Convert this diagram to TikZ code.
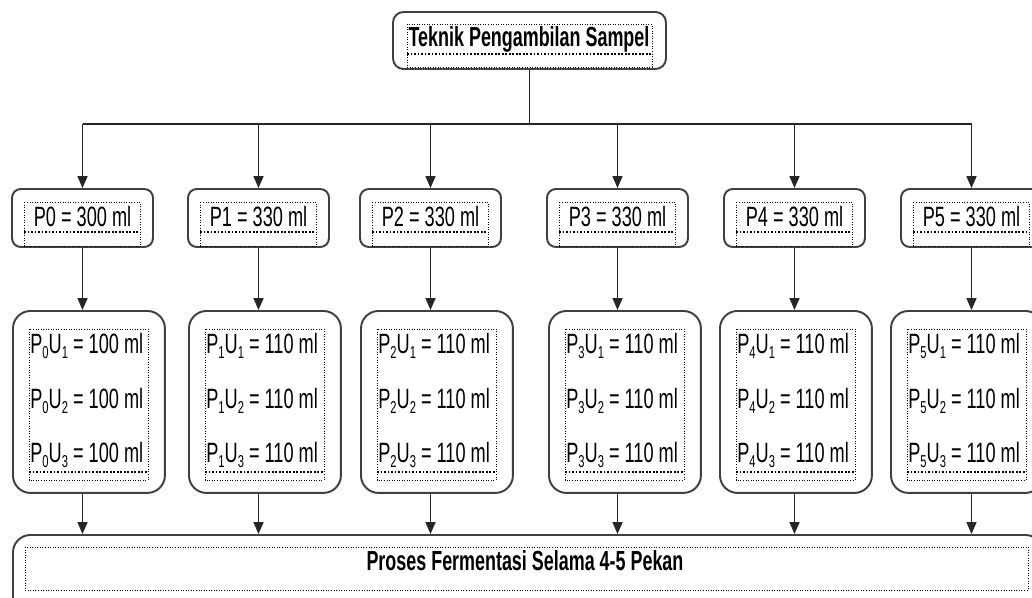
\documentclass[tikz,border=0pt]{standalone}
\usepackage{fontspec}
\setmainfont[FakeStretch=0.65]{Liberation Sans}
\usepackage{tikz}
\usetikzlibrary{positioning, arrows.meta, calc}
\newcommand\bawah[1]{\raisebox{-0.35ex}{\fontsize{9.8}{10}\selectfont #1}}
\tikzset{
  outerbox/.style={draw=black!75, line width=1.1pt, inner sep=0pt},
  pbox/.style={outerbox, rounded corners=5pt, minimum width=2.82cm, minimum height=1.16cm},
  ubox/.style={outerbox, rounded corners=10pt, minimum width=3.04cm, minimum height=3.64cm, anchor=north west},
  dotbox/.style={draw, densely dotted, line width=0.45pt},
  sepline/.style={draw, densely dotted, line width=1pt},
  arr/.style={-{Triangle[length=6.8pt,width=5.7pt]}, line width=0.85pt, black!85},
  bus/.style={line width=0.85pt, black!85},
  ptxt/.style={font=\fontsize{15.9}{18}\selectfont, inner sep=0pt},
  btxt/.style={font=\fontsize{15.7}{18}\selectfont\bfseries, inner sep=0pt},
}

\begin{document}
\begin{tikzpicture}[x=0.02cm, y=-0.02cm]
  \useasboundingbox (0,0) rectangle (1032,598);
  % judul
  \node[outerbox, rounded corners=6pt, minimum width=5.46cm, minimum height=1.14cm] (judul) at (529.5,40.5) {};
  \draw[dotbox] (407,24) rectangle (652,67);
  \draw[sepline] (407,54) -- (652,54);
  \node[btxt, anchor=base] (judultxt) at (529,47) {Teknik Pengambilan Sampel};
  \coordinate (busy) at (0,124);
  % perlakuan
  \foreach \i/\ul/\ll/\va/\vb in {0/12/12/300/100, 1/188/188/330/110, 2/360/360/330/110,
      3/547/548/330/110, 4/724/719/330/110, 5/901/890/330/110} {
    \node[pbox] (u\i) at (\ul+70.5,218) {};
    \draw[dotbox] ($(u\i.north west)+(13,14)$) rectangle ($(u\i.south east)+(-14,-2)$);
    \draw[sepline] ($(u\i.north west)+(13,44)$) -- ($(u\i.north east)+(-14,44)$);
    \node[ptxt, anchor=base] (ut\i) at ($(u\i.north)+(0,38)$) {P\i{} = \va{} ml};
    \node[ubox] (l\i) at (\ll,310) {};
    \draw[dotbox] ($(l\i.north west)+(17,19)$) rectangle ($(l\i.north east)+(-18,170)$);
    \draw[sepline] ($(l\i.north west)+(17,162)$) -- ($(l\i.north east)+(-18,162)$);
    \foreach \u/\dy in {1/43, 2/98, 3/152}
      \node[ptxt, anchor=base west] (lt\i\u) at ($(l\i.north west)+(18,\dy)$)
        {P\bawah{\i}U\bawah{\u} = \vb{} ml};
  }
  % proses akhir
  \node[outerbox, rounded corners=10pt, anchor=north west, minimum width=20.6cm, minimum height=1.6cm] (akhir) at (12,534) {};
  \draw[dotbox] (25,547) rectangle (1028,590);
  \node[btxt, anchor=base] (akhirtxt) at (525,570) {Proses Fermentasi Selama 4-5 Pekan};
  % panah
  \draw[bus] (judul.south) -- (judul.south |- busy);
  \draw[bus] (u0.north |- busy) -- (u5.north |- busy);
  \foreach \i in {0,...,5} {
    \draw[arr] (u\i.north |- busy) -- (u\i.north);
    \draw[arr] (u\i.south) -- (u\i.south |- l\i.north);
    \draw[arr] (u\i.south |- l\i.south) -- (u\i.south |- akhir.north);
  }
\end{tikzpicture}
\end{document}
